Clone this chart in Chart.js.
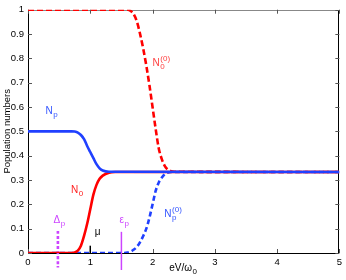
<!DOCTYPE html>
<html>
<head>
<meta charset="utf-8">
<script src="https://cdn.jsdelivr.net/npm/chart.js@4.4.0/dist/chart.umd.min.js"></script>
<style>
html, body { margin: 0; padding: 0; background: #fff; }
</style>
</head>
<body>
<canvas id="Chart" width="346" height="280"></canvas>
<script>
// values (x in eV/w0)
const n0X   = [0, 0.7, 0.75, 0.8, 0.85, 0.9, 0.95, 1.0, 1.05, 1.1, 1.15, 1.2, 1.3, 1.4, 5];
const n0Y   = [0, 0, 0.002, 0.01, 0.03, 0.07, 0.12, 0.18, 0.24, 0.28, 0.305, 0.318, 0.33, 0.333, 0.333];

const npX   = [0, 0.7, 0.75, 0.8, 0.85, 0.9, 0.95, 1.0, 1.05, 1.1, 1.15, 1.2, 1.3, 5];
const npY   = [0.5, 0.5, 0.499, 0.495, 0.485, 0.468, 0.44, 0.415, 0.39, 0.365, 0.348, 0.339, 0.334, 0.333];

const n00X  = [0, 1.6, 1.65, 1.7, 1.75, 1.8, 1.85, 1.9, 1.95, 2.0, 2.05, 2.1, 2.15, 2.2, 2.25, 2.3, 2.35, 5];
const n00Y  = [1, 1, 0.995, 0.98, 0.95, 0.9, 0.84, 0.77, 0.69, 0.6, 0.51, 0.43, 0.385, 0.356, 0.342, 0.336, 0.334, 0.333];

const np0X  = [0, 1.55, 1.6, 1.65, 1.7, 1.75, 1.8, 1.85, 1.9, 1.95, 2.0, 2.05, 2.1, 2.15, 2.2, 2.25, 2.3, 5];
const np0Y  = [0, 0, 0.002, 0.006, 0.014, 0.026, 0.045, 0.07, 0.1, 0.145, 0.2, 0.255, 0.29, 0.31, 0.325, 0.331, 0.333, 0.333];

// vertical markers: delta_p, mu, eps_p
const deltaX = [0.48, 0.48];
const deltaY = [0.09, -0.06];
const muX    = [1, 1];
const muY    = [0, 0.03];
const epsX   = [1.5, 1.5];
const epsY   = [0.087, -0.07];

const xTicks = [0, 1, 2, 3, 4, 5];
const yTicks = [0, 0.1, 0.2, 0.3, 0.4, 0.5, 0.6, 0.7, 0.8, 0.9, 1];

// curve labels: [main, sub, sup, x, y, colour]
const labels = [
    ['N', 'p', '', 0.28, 0.57, '#3355ff'],
    ['N', '0', '', 0.69, 0.246, '#ff2020'],
    ['N', '0', '(0)', 2.0, 0.77, '#ff4040'],
    ['N', 'p', '(0)', 2.19, 0.146, '#3355ff'],
    ['\u0394', 'p', '', 0.41, 0.122, '#cc44ff'],
    ['\u03bc', '', '', 1.07, 0.074, '#000'],
    ['\u03b5', 'p', '', 1.47, 0.122, '#cc44ff']
];

const BLUE = '#2040ff';
const RED = '#ff0000';
const MAG = '#cc44ff';
const FONT = '"Liberation Sans", Arial, sans-serif';

function pts(xs, ys) {
    return xs.map(function (x, i) { return { x: x, y: ys[i] }; });
}

function drawText(ctx, x, y, main, sub, sup, color, size) {
    ctx.fillStyle = color;
    ctx.textBaseline = 'alphabetic';
    ctx.textAlign = 'left';
    ctx.font = size + 'px ' + FONT;
    ctx.fillText(main, x, y);
    let w = ctx.measureText(main).width;
    ctx.font = Math.round(size * 0.75) + 'px ' + FONT;
    if (sub) ctx.fillText(sub, x + w + 0.5, y + 3);
    if (sup) ctx.fillText(sup, x + w + 0.5, y - 5);
}

// box + inward ticks, under the curves
const framePlugin = {
    id: 'frame',
    beforeDatasetsDraw(chart) {
        const ctx = chart.ctx;
        const a = chart.chartArea;
        const xs = chart.scales.x, ys = chart.scales.y;
        ctx.save();
        ctx.lineWidth = 1;
        ctx.strokeStyle = '#888';
        ctx.beginPath();
        ctx.moveTo(Math.round(a.left), Math.round(a.top) + 0.5);
        ctx.lineTo(Math.round(a.right), Math.round(a.top) + 0.5);
        ctx.stroke();
        ctx.strokeStyle = '#000';
        ctx.beginPath();
        ctx.moveTo(Math.round(a.left) + 0.5, Math.round(a.top));
        ctx.lineTo(Math.round(a.left) + 0.5, Math.round(a.bottom) + 0.5);
        ctx.lineTo(Math.round(a.right) - 0.5, Math.round(a.bottom) + 0.5);
        ctx.lineTo(Math.round(a.right) - 0.5, Math.round(a.top));
        ctx.stroke();
        ctx.strokeStyle = '#555';
        xTicks.forEach(function (t) {
            const px = Math.round(xs.getPixelForValue(t)) + 0.5;
            ctx.beginPath();
            ctx.moveTo(px, a.bottom); ctx.lineTo(px, a.bottom - 4);
            ctx.moveTo(px, a.top); ctx.lineTo(px, a.top + 4);
            ctx.stroke();
        });
        yTicks.forEach(function (t) {
            const py = Math.round(ys.getPixelForValue(t)) + 0.5;
            ctx.beginPath();
            ctx.moveTo(a.left, py); ctx.lineTo(a.left + 4, py);
            ctx.moveTo(a.right, py); ctx.lineTo(a.right - 4, py);
            ctx.stroke();
        });
        ctx.restore();
    },
    afterDatasetsDraw(chart) {
        const ctx = chart.ctx;
        const a = chart.chartArea;
        const xs = chart.scales.x, ys = chart.scales.y;
        ctx.save();
        // curve labels
        labels.forEach(function (l) {
            drawText(ctx, xs.getPixelForValue(l[3]), ys.getPixelForValue(l[4]), l[0], l[1], l[2], l[5], 10);
        });

        // axis titles
        ctx.font = '10px ' + FONT;
        const mw = ctx.measureText('eV/\u03c9').width;
        drawText(ctx, (a.left + a.right) / 2 - 3 - mw / 2, 271, 'eV/\u03c9', '0', '', '#000', 10);

        ctx.translate(10, (a.top + a.bottom) / 2);
        ctx.rotate(-Math.PI / 2);
        ctx.fillStyle = '#000';
        ctx.textAlign = 'center';
        ctx.textBaseline = 'alphabetic';
        ctx.font = '9.5px ' + FONT;
        ctx.fillText('Population numbers', 0, 0);
        ctx.restore();
    }
};

const ctx = document.getElementById('Chart').getContext('2d');
const myChart = new Chart(ctx, {
    type: 'scatter',
    data: {
        datasets: [
            { label: 'Np', data: pts(npX, npY), borderColor: BLUE, borderWidth: 2.6 },
            { label: 'N0', data: pts(n0X, n0Y), borderColor: RED, borderWidth: 2.6 },
            { label: 'N0(0)', data: pts(n00X, n00Y), borderColor: RED, borderWidth: 2.6, borderDash: [6, 3] },
            { label: 'Np(0)', data: pts(np0X, np0Y), borderColor: BLUE, borderWidth: 2.6, borderDash: [5, 3] },
            { label: 'delta', data: pts(deltaX, deltaY), borderColor: MAG, borderWidth: 2.6, borderDash: [3, 2], clip: false },
            { label: 'mu', data: pts(muX, muY), borderColor: '#000', borderWidth: 1.5, clip: false },
            { label: 'eps', data: pts(epsX, epsY), borderColor: MAG, borderWidth: 1.5, clip: false }
        ]
    },
    options: {
        responsive: false,
        animation: false,
        devicePixelRatio: 1,
        showLine: true,
        elements: {
            point: { radius: 0 },
            line: { cubicInterpolationMode: 'monotone', borderCapStyle: 'butt' }
        },
        layout: { padding: { top: 7, right: 5, left: 0, bottom: 0 } },
        plugins: { legend: { display: false }, tooltip: { enabled: false } },
        scales: {
            x: {
                type: 'linear', min: 0, max: 5,
                grid: { display: false, drawTicks: false }, border: { display: false },
                afterBuildTicks: function (s) { s.ticks = xTicks.map(function (v) { return { value: v }; }); },
                afterFit: function (s) { s.height = 27; },
                ticks: { padding: 4, color: '#000', maxRotation: 0, font: { family: FONT, size: 9.5 } }
            },
            y: {
                type: 'linear', min: 0, max: 1,
                grid: { display: false, drawTicks: false }, border: { display: false },
                afterBuildTicks: function (s) { s.ticks = yTicks.map(function (v) { return { value: v }; }); },
                afterFit: function (s) { s.width = 28; },
                ticks: {
                    padding: 4, color: '#000',
                    font: { family: FONT, size: 9.5 },
                    callback: function (v) { return String(Math.round(v * 10) / 10); }
                }
            }
        }
    },
    plugins: [framePlugin]
});
</script>
</body>
</html>
